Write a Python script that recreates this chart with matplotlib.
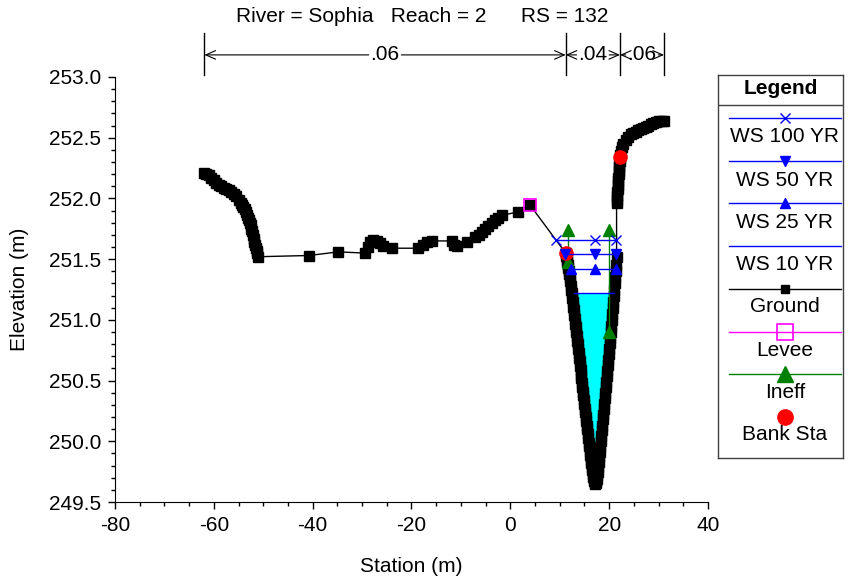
import numpy as np
import matplotlib
matplotlib.use("Agg")
import matplotlib.pyplot as plt
from matplotlib.transforms import blended_transform_factory

plt.rcParams['font.family'] = ['Liberation Sans', 'DejaVu Sans']
plt.rcParams['axes.unicode_minus'] = False

# ---------------- data ----------------
ground_sta = [-61.9, -61.5, -61.0, -60.5, -60.0, -59.5, -59.0, -58.5, -58.0, -57.5,
              -57.0, -56.5, -56.0, -55.5, -55.0, -54.5, -54.25, -54.0, -53.75, -53.5,
              -53.25, -53.0, -52.85, -52.7, -52.55, -52.4, -52.25, -52.1, -51.95, -51.8,
              -51.65, -51.5, -51.35, -51.2, -51.0,
              -40.7, -34.8, -29.5, -28.9, -28.4, -27.7, -27.0, -26.4, -25.7, -24.0,
              -18.6, -17.6, -16.8, -15.9, -11.9, -11.5, -10.8, -8.8, -7.1, -6.4,
              -5.8, -5.1, -4.5, -3.8, -3.2, -2.5, -1.7, 1.6, 3.9,
              11.2, 11.3, 11.4, 11.5, 11.6, 11.7, 11.8, 11.9, 12.0, 12.1, 12.2, 12.3,
              12.4, 12.5, 12.6, 12.7, 12.8, 12.9, 13.0, 13.1, 13.2, 13.3, 13.4, 13.5,
              13.6, 13.7, 13.8, 13.9, 14.0, 14.1, 14.2, 14.3, 14.4, 14.5, 14.6, 14.7,
              14.8, 14.9, 15.0, 15.1, 15.2, 15.3, 15.4, 15.5, 15.6, 15.7, 15.8, 15.9,
              16.0, 16.1, 16.2, 16.3, 16.4, 16.5, 16.6, 16.7, 16.8, 16.9, 17.0, 17.1,
              17.2,
              17.3, 17.4, 17.5, 17.6, 17.7, 17.8, 17.9, 18.0, 18.1, 18.2, 18.3, 18.4,
              18.5, 18.6, 18.7, 18.8, 18.9, 19.0, 19.1, 19.2, 19.3, 19.4, 19.5, 19.6,
              19.7, 19.8, 19.9, 20.0, 20.1, 20.2, 20.3, 20.4, 20.5, 20.6, 20.7, 20.8,
              20.9, 21.0, 21.1, 21.2, 21.3, 21.4, 21.5,
              21.5, 21.55, 21.6, 21.65, 21.7, 21.75, 21.8, 21.85, 21.9, 21.95, 22.0,
              22.05, 22.1, 22.15, 22.2, 22.3, 22.5, 22.9, 23.4,
              23.9, 24.4, 24.9, 25.4, 25.9, 26.4, 26.9, 27.4, 27.9, 28.4, 28.9, 29.5,
              30.1, 30.6, 31.1]
ground_el = [252.21, 252.20, 252.19, 252.17, 252.15, 252.13, 252.11, 252.10, 252.09, 252.08,
             252.07, 252.05, 252.04, 252.02, 251.99, 251.96, 251.945, 251.93, 251.91, 251.89,
             251.865, 251.84, 251.82, 251.80, 251.78, 251.75, 251.73, 251.70, 251.67, 251.64,
             251.62, 251.59, 251.57, 251.55, 251.52,
             251.53, 251.56, 251.55, 251.60, 251.64, 251.66, 251.65, 251.63, 251.61, 251.59,
             251.59, 251.62, 251.64, 251.65, 251.65, 251.62, 251.61, 251.64, 251.68, 251.70,
             251.72, 251.75, 251.77, 251.80, 251.82, 251.84, 251.86, 251.89, 251.95,
             251.55, 251.53, 251.50, 251.48, 251.45, 251.43, 251.40, 251.38, 251.35, 251.32,
             251.28, 251.25, 251.22, 251.18, 251.15, 251.11, 251.08, 251.04, 251.01, 250.97,
             250.94, 250.90, 250.87, 250.83, 250.80, 250.76, 250.73, 250.69, 250.66, 250.62,
             250.59, 250.55, 250.52, 250.48, 250.45, 250.41, 250.38, 250.34, 250.31, 250.27,
             250.24, 250.20, 250.17, 250.13, 250.10, 250.06, 250.03, 249.99, 249.96, 249.92,
             249.89, 249.85, 249.82, 249.79, 249.76, 249.73, 249.71, 249.69, 249.67, 249.66,
             249.65,
             249.66, 249.67, 249.69, 249.72, 249.75, 249.79, 249.83, 249.87, 249.91, 249.95,
             250.00, 250.04, 250.09, 250.13, 250.18, 250.22, 250.27, 250.31, 250.36, 250.40,
             250.45, 250.49, 250.54, 250.58, 250.63, 250.67, 250.72, 250.76, 250.81, 250.85,
             250.90, 250.95, 251.00, 251.05, 251.10, 251.15, 251.20, 251.25, 251.30, 251.35,
             251.40, 251.45, 251.52,
             251.96, 251.99, 252.02, 252.05, 252.08, 252.11, 252.14, 252.17, 252.20, 252.23,
             252.26, 252.28, 252.31, 252.33, 252.36, 252.39, 252.42, 252.45, 252.48,
             252.51, 252.53, 252.54, 252.55, 252.56, 252.57, 252.58, 252.59, 252.60, 252.61,
             252.62, 252.63, 252.64, 252.64, 252.64]

ws100_sta = [9.2, 17.1, 21.4]
ws100_el = 251.66
ws50_sta = [11.1, 17.1, 21.4]
ws50_el = 251.54
ws25_sta = [12.2, 17.1, 21.3]
ws25_el = 251.42
ws10_sta = [12.9, 20.9]
ws10_el = 251.22

levee_sta = [3.9]
levee_el = [251.95]

ineff_left_sta = [11.7, 11.7]
ineff_left_el = [251.74, 251.48]
ineff_right_sta = [19.9, 19.9]
ineff_right_el = [251.74, 250.90]

bank_sta = [11.2, 22.2]
bank_el = [251.55, 252.34]

n_breaks = [-61.9, 11.2, 22.2, 31.1]
n_values = ['.06', '.04', '.06']

legend_labels = ['WS 100 YR', 'WS 50 YR', 'WS 25 YR', 'WS 10 YR', 'Ground',
                 'Levee', 'Ineff', 'Bank Sta']

title = 'River = Sophia   Reach = 2      RS = 132'

# ---------------- figure ----------------
W, H = 849, 583
fig = plt.figure(figsize=(W / 100, H / 100), dpi=100)
ax = fig.add_axes([115 / W, 1 - 502 / H, 593 / W, 425 / H])

gs = np.array(ground_sta)
ge = np.array(ground_el)

# cyan water fill for WS 10 YR
mask = (gs >= ws10_sta[0] - 0.5) & (gs <= ws10_sta[1] + 0.5)
ax.fill_between(gs[mask], ge[mask], ws10_el, where=ge[mask] < ws10_el,
                interpolate=True, color='#00FFFF', lw=0, zorder=1)

ax.plot(gs, ge, color='black', lw=1, marker='s', ms=6.5, zorder=2)
ax.plot(levee_sta, levee_el, ls='none', marker='s', ms=9, mfc='none',
        mec='#FF00FF', mew=1.2, zorder=3)
for s, e in ((ineff_left_sta, ineff_left_el), (ineff_right_sta, ineff_right_el)):
    ax.plot(s, e, color='#008000', lw=1, marker='^', ms=9, zorder=4)
ax.plot(bank_sta, bank_el, ls='none', marker='o', ms=9.5, color='#FF0000', zorder=5)

ax.plot(ws100_sta, [ws100_el] * len(ws100_sta), color='#0000FF', lw=1, marker='x',
        ms=7, mew=1, zorder=6)
ax.plot(ws50_sta, [ws50_el] * len(ws50_sta), color='#0000FF', lw=1, marker='v',
        ms=7, zorder=6)
ax.plot(ws25_sta, [ws25_el] * len(ws25_sta), color='#0000FF', lw=1, marker='^',
        ms=7, zorder=6)
ax.plot(ws10_sta, [ws10_el] * len(ws10_sta), color='#0000FF', lw=1, zorder=6)

ax.set_xlim(-80, 40)
ax.set_ylim(249.5, 253.0)
ax.set_xticks(np.arange(-80, 41, 20))
ax.set_xticks(np.arange(-80, 41, 5), minor=True)
ax.set_yticks(np.arange(249.5, 253.01, 0.5))
ax.set_yticks(np.arange(249.5, 253.01, 0.1), minor=True)
ax.yaxis.set_major_formatter(matplotlib.ticker.FormatStrFormatter('%.1f'))
for sp in ('top', 'right'):
    ax.spines[sp].set_visible(False)
ax.tick_params(which='major', direction='out', length=5, width=1, labelsize=15, pad=5)
ax.tick_params(which='minor', direction='out', length=3, width=1)
ax.set_xlabel('Station (m)', fontsize=15, labelpad=16)
ax.set_ylabel('Elevation (m)', fontsize=15, labelpad=14)

# Manning's n annotations
trans = blended_transform_factory(ax.transData, ax.transAxes)
y_lo, y_hi, y_arr = 1.004, 1.104, 1.052
for x in n_breaks:
    ax.plot([x, x], [y_lo, y_hi], color='black', lw=1, transform=trans, clip_on=False)
half_txt = 3.3
for i, lab in enumerate(n_values):
    a, b = n_breaks[i], n_breaks[i + 1]
    mid = (a + b) / 2
    ax.text(mid, y_arr, lab, transform=trans, ha='center', va='center', fontsize=15)
    for end, start in ((a, mid - half_txt), (b, mid + half_txt)):
        ax.annotate('', xy=(end, y_arr), xytext=(start, y_arr), xycoords=trans,
                    textcoords=trans, annotation_clip=False,
                    arrowprops=dict(arrowstyle='->,head_length=0.5,head_width=0.22',
                                    lw=0.8, color='black', shrinkA=0, shrinkB=0,
                                    mutation_scale=14))

fig.text(422 / W, 1 - 16 / H, title, ha='center', va='center', fontsize=15)

# ---------------- legend box ----------------
lx0, ly0, lx1, ly1 = 718, 75, 843, 458
lax = fig.add_axes([lx0 / W, 1 - ly1 / H, (lx1 - lx0) / W, (ly1 - ly0) / H])
lax.set_xlim(0, lx1 - lx0)
lax.set_ylim(ly1 - ly0, 0)
lax.set_xticks([])
lax.set_yticks([])
for sp in lax.spines.values():
    sp.set_color('#404040')
    sp.set_linewidth(1)
lax.text(62.5, 13, 'Legend', ha='center', va='center', fontsize=15, fontweight='bold')
lax.plot([0, lx1 - lx0], [30, 30], color='#404040', lw=1)

styles = [
    dict(color='#0000FF', marker='x', ms=7, mew=1),
    dict(color='#0000FF', marker='v', ms=7),
    dict(color='#0000FF', marker='^', ms=7),
    dict(color='#0000FF'),
    dict(color='black', marker='s', ms=6),
    dict(color='#FF00FF', marker='s', ms=11, mfc='none', mew=1.2),
    dict(color='#008000', marker='^', ms=11),
    dict(color='#FF0000', marker='o', ms=11, ls='none'),
]
line_y = [43.3, 85.5, 128.3, 171, 214, 256.7, 299, 341.7]
text_y = [61.7, 105, 147, 189, 232, 275, 318, 360]
for lab, st, yl, yt in zip(legend_labels, styles, line_y, text_y):
    if st.get('ls') == 'none':
        lax.plot([67], [yl], **st)
    else:
        lax.plot([11, 123], [yl, yl], color=st['color'], lw=1)
        if 'marker' in st:
            lax.plot([67], [yl], ls='none', **st)
    lax.text(67, yt, lab, ha='center', va='center', fontsize=15)

fig.savefig('out.png', dpi=100)
